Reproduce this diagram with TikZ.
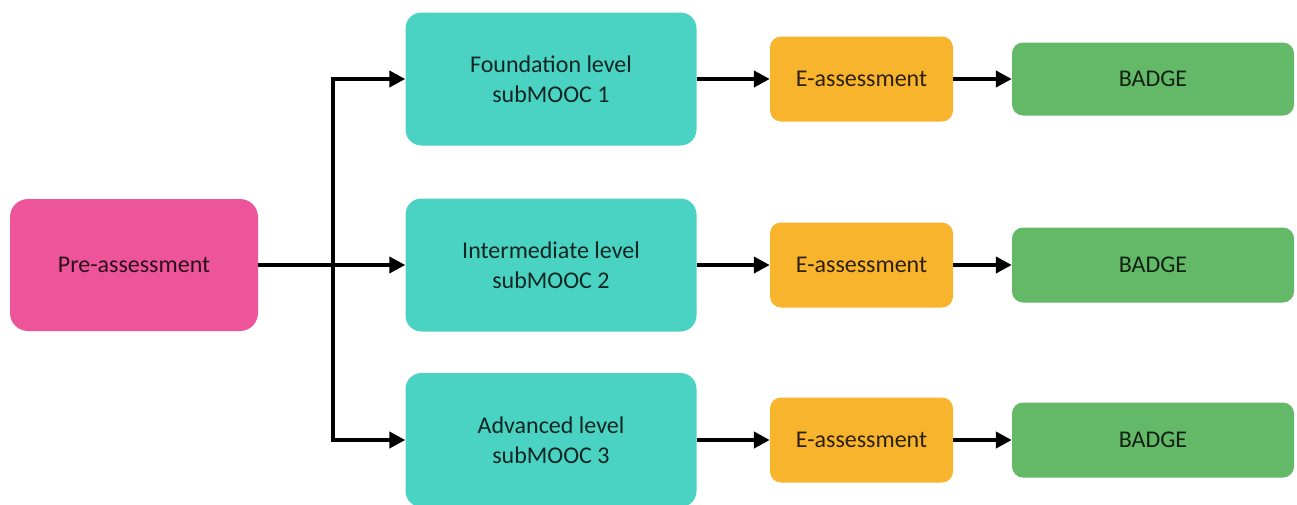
\documentclass[tikz,border=0pt]{standalone}
\usepackage{fontspec}
\setmainfont{Carlito}
\usetikzlibrary{arrows.meta}

\definecolor{prepink}{HTML}{EE5499}
\definecolor{moocteal}{HTML}{4AD3C2}
\definecolor{examorange}{HTML}{F7B42C}
\definecolor{badgegreen}{HTML}{63B968}

\tikzset{
  box/.style={rectangle, inner sep=0pt, align=center, text=black, text opacity=0.82,
    font=\fontsize{24}{30}\selectfont},
  prebox/.style={box, fill=prepink, rounded corners=18pt, minimum width=248pt, minimum height=132pt},
  moocbox/.style={box, fill=moocteal, rounded corners=16pt, minimum width=291pt, minimum height=133pt},
  exambox/.style={box, fill=examorange, rounded corners=11pt, minimum width=183pt, minimum height=85pt},
  badgebox/.style={box, fill=badgegreen, rounded corners=11pt, minimum width=282pt, minimum height=73pt},
  flow/.style={line width=4.6pt, -{Triangle[length=16pt,width=16pt]}}
}

\begin{document}
\begin{tikzpicture}[x=1pt, y=-1pt]
  \useasboundingbox (0,0) rectangle (1297,504);

  % starting point
  \node[prebox] (pre) at (134,265) {Pre-assessment};

  % the three subMOOC levels
  \node[moocbox] (sub1) at (551,79) {Foundation level\\subMOOC 1};
  \node[moocbox] (sub2) at (551,265) {Intermediate level\\subMOOC 2};
  \node[moocbox, minimum height=134pt] (sub3) at (551,440) {Advanced level\\subMOOC 3};

  % assessments
  \node[exambox] (e1) at (861.5,79) {E-assessment};
  \node[exambox] (e2) at (861.5,265) {E-assessment};
  \node[exambox] (e3) at (861.5,440) {E-assessment};

  % badges
  \node[badgebox] (b1) at (1153,79) {BADGE};
  \node[badgebox, minimum height=75pt] (b2) at (1153,265) {BADGE};
  \node[badgebox, minimum height=75pt] (b3) at (1153,440) {BADGE};

  % branching from the pre-assessment
  \coordinate (split) at (333,265);
  \draw[flow] (pre.east) -- (sub2.west);
  \draw[flow] (split) |- (sub1.west);
  \draw[flow] (split) |- (sub3.west);

  % each level leads to its assessment and badge
  \foreach \i in {1,2,3} {
    \draw[flow] (sub\i.east) -- (e\i.west);
    \draw[flow] (e\i.east) -- (b\i.west);
  }
\end{tikzpicture}
\end{document}
